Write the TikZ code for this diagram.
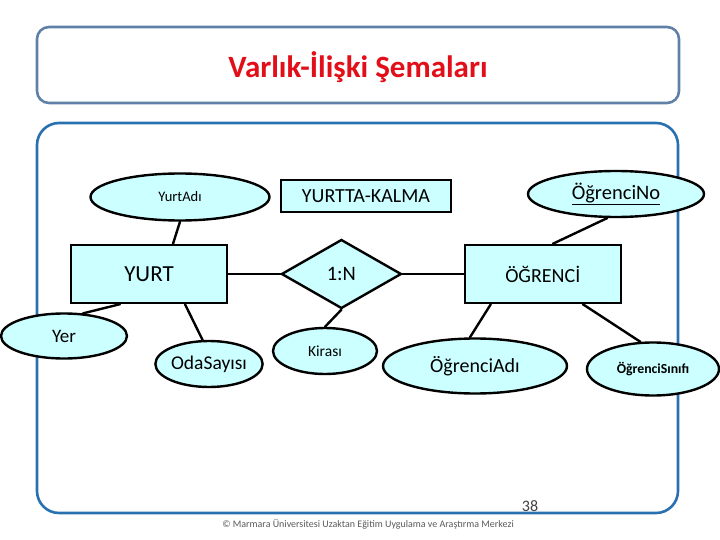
\documentclass[tikz,border=0pt]{standalone}
\usepackage{fontspec}
\setmainfont{Carlito}
\usepackage{tikz}
\usetikzlibrary{shapes.geometric,positioning}
\definecolor{erfill}{RGB}{204,255,255}
\definecolor{framebl}{RGB}{41,112,176}
\definecolor{titlebl}{RGB}{96,128,168}
\definecolor{titlered}{RGB}{226,14,24}
\tikzset{erline/.style={line width=2.4pt},
  entity/.style={draw, erline, fill=erfill, rectangle, minimum width=156pt, minimum height=58pt, inner sep=0pt, font=\fontsize{20}{23}\selectfont},
  attr/.style={draw, erline, fill=erfill, ellipse, inner sep=0pt, font=\fontsize{19.5}{22}\selectfont},
  rel/.style={draw, erline, fill=erfill, diamond, inner sep=0pt, minimum width=120pt, minimum height=69pt, font=\fontsize{20.5}{23}\selectfont},
  erlink/.style={erline, line cap=round}}

\begin{document}
\begin{tikzpicture}[x=1pt, y=-1pt]
\useasboundingbox (0,0) rectangle (720,540);
\draw[titlebl, line width=2.6pt, rounded corners=12pt] (37,27) rectangle (679,103);
\node[text=titlered, font=\fontsize{31}{34}\selectfont\bfseries] (title) at (358,67) {Varlık-İlişki Şemaları};
\draw[framebl, line width=2.6pt, rounded corners=22pt] (37,123) rectangle (678,513);
\node[entity, font=\fontsize{23}{26}\selectfont] (yurt) at (149,274) {YURT};
\node[rel, right=52pt of yurt.east, anchor=west] (relation) {1:N};
\node[entity, right=61pt of relation.east, anchor=west] (ogrenci) {ÖĞRENCİ};
\node[draw, erline, fill=erfill, minimum width=170pt, minimum height=32pt, inner sep=0pt, font=\fontsize{20}{23}\selectfont] (kalma) at (366,196) {YURTTA-KALMA};
\node[attr, minimum width=179pt, minimum height=47pt, font=\fontsize{14.5}{17}\selectfont] (yurtadi) at (180,197) {YurtAdı};
\node[attr, minimum width=176pt, minimum height=46pt, font=\fontsize{20.5}{23}\selectfont] (ogrno) at (616,194) {\underline{ÖğrenciNo}};
\node[attr, minimum width=126pt, minimum height=45pt, font=\fontsize{19}{22}\selectfont] (yer) at (64,336) {Yer};
\node[attr, minimum width=100pt, minimum height=46pt] (odasayisi) at (209,364) {OdaSayısı};
\node[attr, minimum width=104pt, minimum height=46pt, font=\fontsize{15.5}{18}\selectfont] (kirasi) at (325,351) {Kirası};
\node[attr, minimum width=184pt, minimum height=55pt, font=\fontsize{20}{23}\selectfont] (ogradi) at (475,366) {ÖğrenciAdı};
\node[attr, minimum width=132pt, minimum height=53pt, font=\fontsize{13.8}{16}\selectfont\bfseries] (ogrsinif) at (653,369) {ÖğrenciSınıfı};
\draw[erlink] (yurtadi.south) -- ([xshift=24pt]yurt.north);
\draw[erlink] (yurt.east) -- (relation.west);
\draw[erlink] (relation.east) -- (ogrenci.west);
\draw[erlink] (ogrno.250) -- ([xshift=10pt]ogrenci.north);
\draw[erlink] ([xshift=-29pt]yurt.south) -- (yer.50);
\draw[erlink] ([xshift=36pt]yurt.south) -- (odasayisi.105);
\draw[erlink] (relation.south) -- (kirasi.north);
\draw[erlink] ([xshift=-52pt]ogrenci.south) -- (ogradi.100);
\draw[erlink] ([xshift=40pt]ogrenci.south) -- (ogrsinif.115);
\node[text=black!75, font=\fontsize{16}{18}\selectfont] (page) at (530,506) {38};
\node[text=black!65, font=\fontsize{10}{12}\selectfont] (footer) at (368,524) {© Marmara Üniversitesi Uzaktan Eğitim Uygulama ve Araştırma Merkezi};
\end{tikzpicture}
\end{document}
